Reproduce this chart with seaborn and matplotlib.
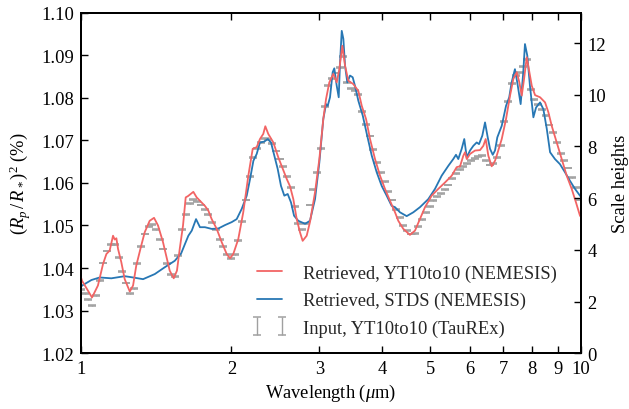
import matplotlib
matplotlib.use("Agg")
import matplotlib.pyplot as plt
import seaborn as sns
import pandas as pd
from matplotlib.ticker import FixedLocator, FixedFormatter, NullLocator

# ---------------- data ----------------
red_wl = [1.000, 1.005, 1.052, 1.081, 1.107, 1.124, 1.141, 1.159, 1.168, 1.177, 1.186, 1.204, 1.223,
          1.252, 1.271, 1.290, 1.320, 1.341, 1.372, 1.400, 1.426, 1.459, 1.481, 1.505, 1.533,
          1.556, 1.576, 1.600, 1.620, 1.637, 1.678, 1.704, 1.730, 1.770, 1.798, 1.826, 1.869,
          1.912, 1.957, 1.987, 2.017, 2.064, 2.112, 2.162, 2.206, 2.247, 2.281, 2.316, 2.338,
          2.370, 2.426, 2.482, 2.541, 2.581, 2.620, 2.660, 2.702, 2.743, 2.777, 2.829, 2.872,
          2.940, 2.999, 3.054, 3.093, 3.140, 3.198, 3.249, 3.288, 3.334, 3.376, 3.427, 3.507,
          3.589, 3.646, 3.719, 3.788, 3.876, 3.966, 4.058, 4.153, 4.250, 4.315, 4.416, 4.553,
          4.660, 4.768, 4.880, 5.032, 5.188, 5.351, 5.519, 5.647, 5.735, 5.823, 5.869, 5.915,
          6.005, 6.145, 6.288, 6.384, 6.455, 6.533, 6.636, 6.738, 6.791, 6.950, 7.089, 7.221,
          7.332, 7.448, 7.538, 7.622, 7.703, 7.799, 7.894, 7.982, 8.104, 8.293, 8.486, 8.616,
          8.750, 8.954, 9.162, 9.376, 9.594, 9.786, 9.968, 10.000]
red_depth = [1.0378, 1.0370, 1.0331, 1.0359, 1.0410, 1.0433, 1.0441, 1.0476, 1.0467, 1.0470, 1.0445,
             1.0414, 1.0374, 1.0345, 1.0359, 1.0406, 1.0453, 1.0484, 1.0511, 1.0518, 1.0500,
             1.0461, 1.0429, 1.0394, 1.0376, 1.0394, 1.0445, 1.0500, 1.0566, 1.0569, 1.0579,
             1.0566, 1.0558, 1.0546, 1.0535, 1.0515, 1.0492, 1.0461, 1.0433, 1.0423, 1.0433,
             1.0468, 1.0531, 1.0617, 1.0680, 1.0684, 1.0703, 1.0715, 1.0733, 1.0715, 1.0695,
             1.0660, 1.0629, 1.0609, 1.0592, 1.0562, 1.0515, 1.0484, 1.0464, 1.0476, 1.0508,
             1.0578, 1.0656, 1.0750, 1.0797, 1.0836, 1.0856, 1.0836, 1.0867, 1.0922, 1.0875,
             1.0840, 1.0832, 1.0816, 1.0781, 1.0750, 1.0703, 1.0656, 1.0617, 1.0586, 1.0558,
             1.0531, 1.0511, 1.0492, 1.0478, 1.0488, 1.0515, 1.0543, 1.0570, 1.0586, 1.0601,
             1.0617, 1.0637, 1.0639, 1.0664, 1.0672, 1.0656, 1.0668, 1.0676, 1.0677, 1.0687,
             1.0703, 1.0664, 1.0639, 1.0652, 1.0664, 1.0703, 1.0750, 1.0805, 1.0844, 1.0860,
             1.0836, 1.0805, 1.0844, 1.0895, 1.0860, 1.0828, 1.0806, 1.0801, 1.0789, 1.0766,
             1.0734, 1.0695, 1.0656, 1.0617, 1.0586, 1.0554, 1.0523, 1.0521]

blue_wl = [1.000, 1.005, 1.049, 1.090, 1.150, 1.223, 1.271, 1.331, 1.405, 1.471, 1.540,
           1.587, 1.615, 1.640, 1.666, 1.699, 1.730, 1.770, 1.826, 1.883, 1.942,
           2.003, 2.049, 2.097, 2.146, 2.179, 2.213, 2.247, 2.281, 2.327, 2.364,
           2.400, 2.437, 2.475, 2.513, 2.552, 2.592, 2.632, 2.669, 2.722, 2.808,
           2.872, 2.940, 2.999, 3.054, 3.093, 3.117, 3.150, 3.189, 3.213, 3.249,
           3.279, 3.299, 3.325, 3.350, 3.376, 3.411, 3.454, 3.497, 3.534, 3.589,
           3.663, 3.732, 3.818, 3.906, 3.997, 4.090, 4.185, 4.250, 4.348, 4.485,
           4.624, 4.768, 4.955, 5.110, 5.270, 5.433, 5.559, 5.629, 5.689, 5.779,
           5.848, 5.915, 6.005, 6.097, 6.193, 6.259, 6.355, 6.435, 6.515, 6.585,
           6.668, 6.738, 6.810, 6.950, 7.089, 7.194, 7.274, 7.386, 7.465, 7.583,
           7.675, 7.735, 7.818, 7.915, 8.041, 8.141, 8.293, 8.420, 8.553, 8.684,
           8.882, 9.089, 9.301, 9.517, 9.741, 9.968, 10.000]
blue_depth = [1.0356, 1.0359, 1.0372, 1.0378, 1.0376, 1.0381, 1.0378, 1.0374, 1.0386, 1.0402, 1.0417,
              1.0435, 1.0457, 1.0476, 1.0488, 1.0515, 1.0496, 1.0496, 1.0492, 1.0493, 1.0501,
              1.0508, 1.0515, 1.0539, 1.0570, 1.0609, 1.0652, 1.0668, 1.0695, 1.0697, 1.0703,
              1.0695, 1.0664, 1.0633, 1.0593, 1.0570, 1.0574, 1.0554, 1.0523, 1.0511, 1.0504,
              1.0511, 1.0562, 1.0648, 1.0750, 1.0785, 1.0781, 1.0801, 1.0860, 1.0869, 1.0828,
              1.0801, 1.0883, 1.0957, 1.0938, 1.0875, 1.0836, 1.0852, 1.0848, 1.0828, 1.0793,
              1.0758, 1.0715, 1.0664, 1.0625, 1.0593, 1.0570, 1.0546, 1.0543, 1.0531, 1.0522,
              1.0531, 1.0543, 1.0562, 1.0586, 1.0617, 1.0640, 1.0656, 1.0666, 1.0656, 1.0680,
              1.0703, 1.0660, 1.0676, 1.0687, 1.0695, 1.0691, 1.0711, 1.0742, 1.0707, 1.0680,
              1.0666, 1.0676, 1.0707, 1.0734, 1.0781, 1.0801, 1.0836, 1.0867, 1.0836, 1.0785,
              1.0860, 1.0926, 1.0899, 1.0828, 1.0754, 1.0777, 1.0789, 1.0773, 1.0727, 1.0672,
              1.0656, 1.0644, 1.0625, 1.0605, 1.0586, 1.0570, 1.0568]

input_wl = [1.000, 1.017, 1.035, 1.053, 1.072, 1.090, 1.109, 1.129, 1.148, 1.168,
            1.189, 1.209, 1.230, 1.252, 1.274, 1.296, 1.318, 1.341, 1.365, 1.388,
            1.413, 1.437, 1.462, 1.488, 1.514, 1.540, 1.567, 1.594, 1.622, 1.650,
            1.679, 1.708, 1.738, 1.768, 1.799, 1.830, 1.862, 1.895, 1.928, 1.961,
            1.995, 2.030, 2.065, 2.101, 2.138, 2.175, 2.213, 2.252, 2.291, 2.331,
            2.371, 2.413, 2.455, 2.498, 2.541, 2.585, 2.630, 2.676, 2.723, 2.770,
            2.818, 2.868, 2.917, 2.968, 3.020, 3.073, 3.126, 3.181, 3.236, 3.292,
            3.350, 3.408, 3.467, 3.528, 3.589, 3.652, 3.715, 3.780, 3.846, 3.913,
            3.981, 4.050, 4.121, 4.193, 4.266, 4.340, 4.416, 4.493, 4.571, 4.651,
            4.732, 4.814, 4.898, 4.983, 5.070, 5.158, 5.248, 5.340, 5.433, 5.527,
            5.623, 5.721, 5.821, 5.922, 6.026, 6.131, 6.237, 6.346, 6.457, 6.569,
            6.683, 6.800, 6.918, 7.039, 7.161, 7.286, 7.413, 7.542, 7.674, 7.807,
            7.943, 8.082, 8.222, 8.366, 8.511, 8.660, 8.811, 8.964, 9.120, 9.279,
            9.441, 9.605, 9.772, 9.943]
input_depth = [1.0350, 1.0340, 1.0327, 1.0312, 1.0335, 1.0370, 1.0412, 1.0440, 1.0455, 1.0455,
               1.0425, 1.0392, 1.0365, 1.0340, 1.0352, 1.0410, 1.0450, 1.0480, 1.0498, 1.0503,
               1.0490, 1.0468, 1.0445, 1.0410, 1.0385, 1.0380, 1.0430, 1.0490, 1.0525, 1.0552,
               1.0562, 1.0556, 1.0548, 1.0538, 1.0525, 1.0508, 1.0490, 1.0468, 1.0450, 1.0432,
               1.0423, 1.0432, 1.0465, 1.0510, 1.0560, 1.0615, 1.0660, 1.0680, 1.0695, 1.0705,
               1.0702, 1.0692, 1.0675, 1.0656, 1.0638, 1.0615, 1.0590, 1.0545, 1.0505, 1.0490,
               1.0505, 1.0548, 1.0585, 1.0625, 1.0680, 1.0780, 1.0828, 1.0845, 1.0858, 1.0870,
               1.0897, 1.0835, 1.0822, 1.0816, 1.0808, 1.0768, 1.0738, 1.0710, 1.0678, 1.0648,
               1.0625, 1.0603, 1.0580, 1.0560, 1.0537, 1.0518, 1.0500, 1.0488, 1.0480, 1.0482,
               1.0497, 1.0514, 1.0530, 1.0545, 1.0558, 1.0568, 1.0576, 1.0585, 1.0595, 1.0610,
               1.0623, 1.0632, 1.0638, 1.0645, 1.0653, 1.0658, 1.0662, 1.0665, 1.0652, 1.0642,
               1.0645, 1.0660, 1.0688, 1.0745, 1.0792, 1.0834, 1.0852, 1.0860, 1.0874, 1.0890,
               1.0820, 1.0795, 1.0785, 1.0773, 1.0758, 1.0736, 1.0718, 1.0695, 1.0670, 1.0653,
               1.0635, 1.0612, 1.0590, 1.0560]
input_err = 0.0001

x_ticks = [1, 2, 3, 4, 5, 6, 7, 8, 9, 10]
x_ticklabels = ["1", "2", "3", "4", "5", "6", "7", "8", "9", "10"]
y_ticks = [1.02, 1.03, 1.04, 1.05, 1.06, 1.07, 1.08, 1.09, 1.10]
sh_ticks = [0, 2, 4, 6, 8, 10, 12]
sh_max = 13.18

label_red = "Retrieved, YT10to10 (NEMESIS)"
label_blue = "Retrieved, STDS (NEMESIS)"
label_input = "Input, YT10to10 (TauREx)"

# ---------------- style ----------------
sns.set_theme(style="ticks")
plt.rcParams["font.family"] = ["Liberation Serif", "DejaVu Serif"]
plt.rcParams["mathtext.fontset"] = "custom"
plt.rcParams["mathtext.rm"] = "Liberation Serif"
plt.rcParams["mathtext.it"] = "Liberation Serif:italic"
plt.rcParams["mathtext.bf"] = "Liberation Serif:bold"
FS = 13.3

RED = "#f26464"
BLUE = "#2777b4"
GRAY = "#a0a0a0"

fig = plt.figure(figsize=(6.29, 4.10), dpi=100)
ax = fig.add_axes([0.1288, 0.1359, 0.9232 - 0.1288, 0.967 - 0.1359])

df_red = pd.DataFrame({"wl": red_wl, "depth": red_depth})
df_blue = pd.DataFrame({"wl": blue_wl, "depth": blue_depth})

eb = ax.errorbar(input_wl, input_depth, yerr=input_err, fmt="none", ecolor=GRAY,
                 elinewidth=1.0, capsize=2.9, capthick=1.1, zorder=1)
sns.lineplot(data=df_red, x="wl", y="depth", ax=ax, color=RED, lw=1.3, zorder=3,
             estimator=None, sort=False)
red_line = ax.lines[-1]
sns.lineplot(data=df_blue, x="wl", y="depth", ax=ax, color=BLUE, lw=1.3, zorder=2,
             estimator=None, sort=False)
blue_line = ax.lines[-1]

ax.set_xscale("log")
ax.set_xlim(1, 10)
ax.set_ylim(1.02, 1.10)
ax.xaxis.set_major_locator(FixedLocator(x_ticks))
ax.xaxis.set_major_formatter(FixedFormatter(x_ticklabels))
ax.xaxis.set_minor_locator(NullLocator())
ax.set_yticks(y_ticks)
ax.set_yticklabels([f"{v:.2f}" for v in y_ticks])

ax.tick_params(axis="x", which="both", direction="in", top=True, bottom=True,
               length=5, width=1, labelsize=FS, pad=5, color="black", labelcolor="black")
ax.tick_params(axis="y", which="both", direction="in", left=True, right=False,
               length=5, width=1, labelsize=FS, pad=5, color="black", labelcolor="black")

ax.set_xlabel(r"Wavelength ($\mu$m)", fontsize=FS, color="black", labelpad=3)
ax.set_ylabel(r"$(R_p\,/\,R_*)^2$ (%)", fontsize=FS, color="black", labelpad=6)

ax2 = ax.twinx()
ax2.set_ylim(0, sh_max)
ax2.set_yticks(sh_ticks)
ax2.set_yticklabels([str(v) for v in sh_ticks])
ax2.tick_params(axis="y", direction="in", left=False, right=True, length=5, width=1,
                labelsize=FS, pad=5, color="black", labelcolor="black")
ax2.set_ylabel("Scale heights", fontsize=FS, color="black", labelpad=4)

for a in (ax, ax2):
    for s in a.spines.values():
        s.set_linewidth(1.4)
        s.set_color("black")

handles = [red_line, blue_line, eb]
ax.legend(handles, [label_red, label_blue, label_input], loc="lower right",
          bbox_to_anchor=(0.985, 0.0), frameon=False, fontsize=FS, numpoints=2,
          handlelength=2.0, labelspacing=0.55, handletextpad=0.8)

fig.savefig("out.png", dpi=100)
